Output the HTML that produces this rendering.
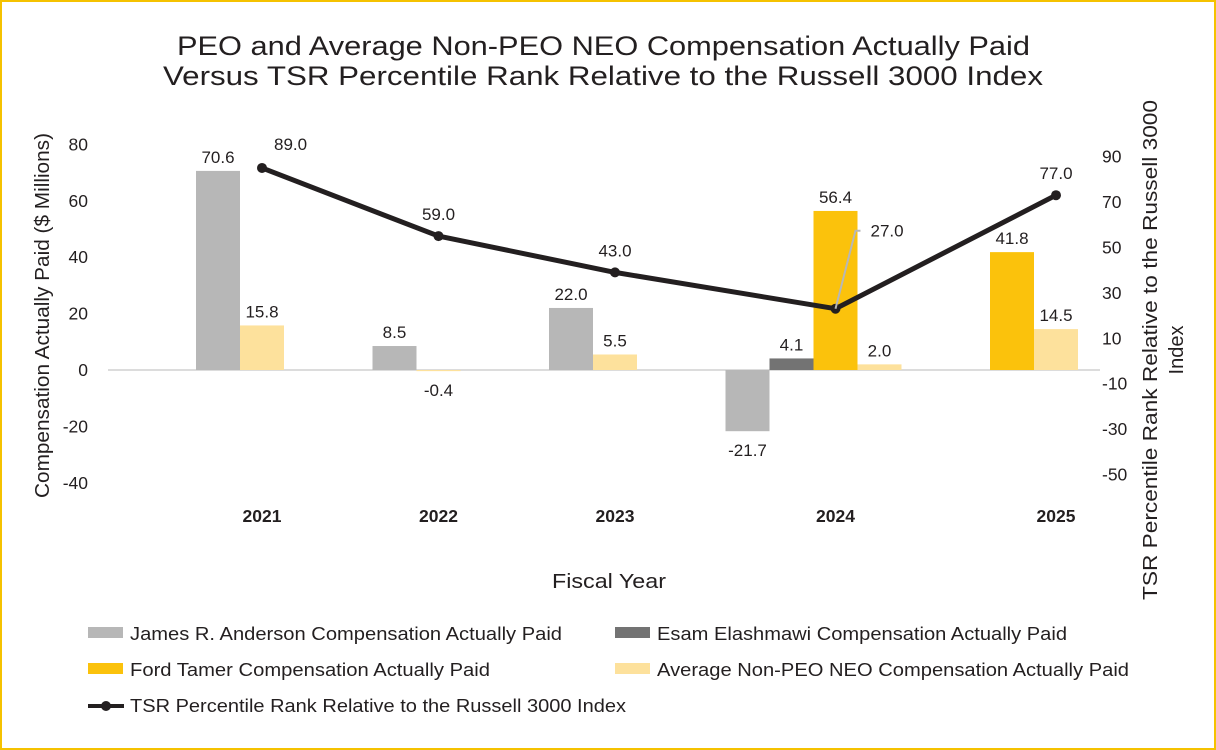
<!DOCTYPE html>
<html><head><meta charset="utf-8"><style>
body{margin:0;background:#fff;}
#wrap{position:relative;width:1216px;height:750px;box-sizing:border-box;border:2px solid #f5c200;background:#fff;overflow:hidden;font-family:"Liberation Sans",Arial,sans-serif;}
svg text{font-family:"Liberation Sans",Arial,sans-serif;}
</style></head><body>
<div id="wrap">
<svg id="chart" width="1212" height="746" viewBox="2 2 1212 746" xmlns="http://www.w3.org/2000/svg">
<text x="177" y="55" font-size="27" fill="#231f20" textLength="853" lengthAdjust="spacingAndGlyphs">PEO and Average Non-PEO NEO Compensation Actually Paid</text>
<text x="163" y="85" font-size="27" fill="#231f20" textLength="880" lengthAdjust="spacingAndGlyphs">Versus TSR Percentile Rank Relative to the Russell 3000 Index</text>
<text transform="translate(49,498) rotate(-90)" font-size="20" fill="#231f20" textLength="365" lengthAdjust="spacingAndGlyphs">Compensation Actually Paid ($ Millions)</text>
<text transform="translate(1157,600) rotate(-90)" font-size="20" fill="#231f20" textLength="500" lengthAdjust="spacingAndGlyphs">TSR Percentile Rank Relative to the Russell 3000</text>
<text transform="translate(1183,350) rotate(-90)" text-anchor="middle" font-size="20" fill="#231f20">Index</text>
<text x="552" y="588" font-size="20" fill="#231f20" textLength="114" lengthAdjust="spacingAndGlyphs">Fiscal Year</text>
<g id="g"></g>
</svg>
</div>
<script>
const categories=["2021","2022","2023","2024","2025"];
const anderson=[70.6,8.5,22.0,-21.7,null];
const elashmawi=[null,null,null,4.1,null];
const tamer=[null,null,null,56.4,41.8];
const avgNeo=[15.8,-0.4,5.5,2.0,14.5];
const tsr=[89,59,43,27,77];
const leftTicks=[80,60,40,20,0,-20,-40];
const rightTicks=[90,70,50,30,10,-10,-30,-50];
const seriesNames=["James R. Anderson Compensation Actually Paid","Esam Elashmawi Compensation Actually Paid","Ford Tamer Compensation Actually Paid","Average Non-PEO NEO Compensation Actually Paid"];

const NS="http://www.w3.org/2000/svg";
const g=document.getElementById('g');
function el(t,a,txt){const e=document.createElementNS(NS,t);for(const k in a)e.setAttribute(k,a[k]);if(txt!==undefined)e.textContent=txt;g.appendChild(e);return e;}
const zeroY=370;
const yL=v=>zeroY-v*2.82;
const yR=v=>zeroY-v*2.27;
const colors=["#b7b7b7","#737373","#fbc20c","#fde19c"];
const series=[anderson,elashmawi,tamer,avgNeo];
const barW=44,gap=88.5;
const ax=el('line',{x1:108,x2:1100,y1:zeroY,y2:zeroY,stroke:'#d0d0d0','stroke-width':1.5});


leftTicks.forEach(v=>{const t=el('text',{x:88,y:yL(v)+6,'text-anchor':'end','font-size':17.5,fill:'#231f20'},String(v));

});
rightTicks.forEach(v=>{const t=el('text',{x:1102,y:yR(v)-3,'text-anchor':'start','font-size':17.5,fill:'#231f20'},String(v));

});
let x=196;const pts=[];
categories.forEach((c,i)=>{
  const idx=[0,1,2,3].filter(s=>series[s][i]!==null);
  idx.forEach((s,k)=>{
    const v=series[s][i];const bx=x+k*barW;
    const r=el('rect',{x:bx,y:Math.min(yL(v),zeroY),width:barW,height:Math.abs(yL(v)-zeroY),fill:colors[s]});
    
    
    const ly=v>=0?yL(v)-8:yL(v)+25;
    const t=el('text',{x:bx+barW/2,y:ly,'text-anchor':'middle','font-size':17,fill:'#231f20'},v.toFixed(1));
    
    
  });
  const w=idx.length*barW;const cx=x+w/2;
  const lab=el('text',{x:cx+22,y:522,'text-anchor':'middle','font-size':17.5,'font-weight':'bold',fill:'#231f20'},c);
  
  
  pts.push([cx+22,yR(tsr[i])]);
  x+=w+gap;
});
const ln=el('polyline',{points:pts.map(p=>p.join(',')).join(' '),fill:'none',stroke:'#231f20','stroke-width':5,'stroke-linejoin':'round'});


pts.forEach((p,i)=>{
  const m=el('circle',{cx:p[0],cy:p[1],r:5,fill:'#231f20'});
  
  
  let lx=p[0],ly=p[1]-16;
  if(i===0){lx=p[0]+12;ly=p[1]-18;}
  if(i===3){lx=p[0]+35;ly=p[1]-72;
    const ll=el('polyline',{points:`${p[0]},${p[1]} ${p[0]+20},${p[1]-78} ${p[0]+25},${p[1]-78}`,fill:'none',stroke:'#b7b7b7','stroke-width':2});
    
    }
  const t=el('text',{x:lx,y:ly,'text-anchor':i===3?'start':'middle','font-size':17,fill:'#231f20'},tsr[i].toFixed(1));
  if(i===0)t.setAttribute('text-anchor','start');
  
  
});
const legPos=[[88,634],[615,634],[88,670],[615,670]];
const legLen=[432,410,360,472];
seriesNames.forEach((n,s)=>{
  const [lx,ly]=legPos[s];
  const r=el('rect',{x:lx,y:ly-7,width:35,height:11,fill:colors[s]});
  
  
  const t=el('text',{x:lx+42,y:ly+6,'font-size':18.5,fill:'#231f20',textLength:legLen[s],lengthAdjust:'spacingAndGlyphs'},n);
  
  
});
const l5=el('line',{x1:88,x2:124,y1:706,y2:706,stroke:'#231f20','stroke-width':4});


const c5=el('circle',{cx:106,cy:706,r:5,fill:'#231f20'});


const t5=el('text',{x:130,y:712,'font-size':18.5,fill:'#231f20',textLength:496,lengthAdjust:'spacingAndGlyphs'},"TSR Percentile Rank Relative to the Russell 3000 Index");


</script>
</body></html>
